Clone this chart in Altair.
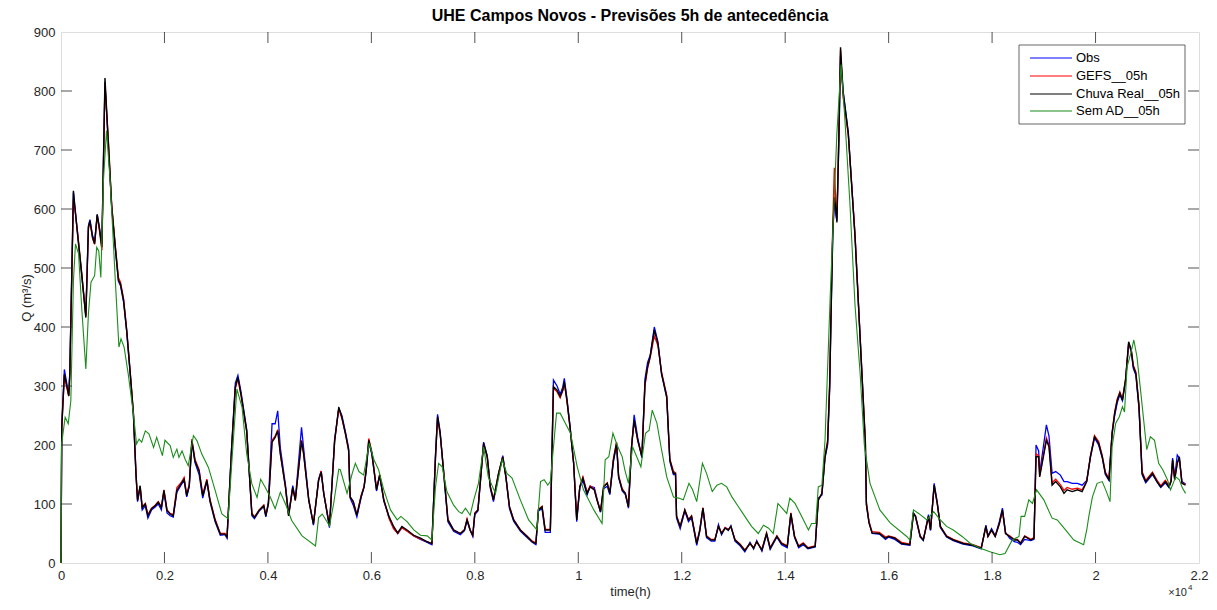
import altair as alt
import pandas as pd

# ---------------- data ----------------
# time in hours
t_fc = [
    0, 15, 65, 130, 150, 170, 240, 270, 340, 400,
    480, 530, 560, 610, 650, 700, 740, 790, 850, 920,
    980, 1050, 1110, 1150, 1210, 1270, 1340, 1400, 1450, 1480,
    1530, 1570, 1630, 1680, 1750, 1820, 1880, 1940, 1990, 2050,
    2110, 2170, 2240, 2320, 2380, 2430, 2480, 2530, 2590, 2670,
    2740, 2820, 2880, 2980, 3080, 3170, 3210, 3300, 3370, 3420,
    3480, 3590, 3690, 3740, 3830, 3920, 3960, 4010, 4080, 4140,
    4190, 4240, 4340, 4400, 4480, 4530, 4650, 4690, 4790, 4880,
    4980, 5030, 5080, 5190, 5290, 5370, 5430, 5500, 5560, 5590,
    5650, 5720, 5800, 5860, 5900, 5950, 6010, 6100, 6160, 6240,
    6340, 6430, 6510, 6590, 6690, 6820, 6950, 7080, 7170, 7240,
    7280, 7330, 7400, 7480, 7590, 7720, 7800, 7850, 7910, 7960,
    8000, 8060, 8110, 8170, 8240, 8300, 8360, 8460, 8540, 8600,
    8670, 8750, 8880, 9010, 9110, 9180, 9230, 9300, 9360, 9460,
    9520, 9590, 9650, 9700, 9730, 9780, 9840, 9910, 9970, 10030,
    10090, 10170, 10230, 10310, 10360, 10430, 10490, 10560, 10610, 10680,
    10740, 10780, 10850, 10910, 10970, 11030, 11080, 11150, 11230, 11290,
    11340, 11390, 11470, 11540, 11610, 11710, 11770, 11840, 11880, 11900,
    11970, 12060, 12130, 12190, 12290, 12350, 12410, 12480, 12570, 12640,
    12710, 12770, 12840, 12900, 12950, 13030, 13130, 13220, 13320, 13390,
    13450, 13550, 13640, 13710, 13840, 13930, 14040, 14110, 14180, 14260,
    14350, 14440, 14580, 14640, 14710, 14770, 14820, 14860, 14890, 14920,
    14950, 14980, 15000, 15040, 15070, 15120, 15220, 15350, 15450, 15550,
    15570, 15620, 15680, 15820, 15940, 16000, 16120, 16250, 16410, 16480,
    16520, 16610, 16670, 16770, 16810, 16880, 16940, 17000, 17120, 17250,
    17440, 17630, 17790, 17880, 17920, 17990, 18060, 18140, 18200, 18260,
    18340, 18430, 18490, 18550, 18630, 18750, 18810, 18850, 18900, 18920,
    19050, 19100, 19160, 19230, 19320, 19390, 19450, 19550, 19650, 19740,
    19830, 19900, 19980, 20060, 20130, 20190, 20260, 20320, 20370, 20420,
    20470, 20520, 20580, 20640, 20690, 20730, 20780, 20840, 20900, 20970,
    21100, 21190, 21260, 21350, 21420, 21460, 21490, 21530, 21580, 21620,
    21670, 21740,
]

q_obs = [
    0, 235, 328, 295, 285, 322, 628, 600, 540, 488,
    420, 572, 582, 555, 545, 590, 570, 540, 815, 700,
    605, 533, 478, 470, 442, 392, 318, 250, 148, 104,
    128, 90, 97, 76, 90, 95, 100, 90, 120, 85,
    80, 78, 120, 132, 140, 112, 130, 205, 170, 150,
    110, 138, 104, 70, 47, 48, 42, 200, 305, 318,
    290, 226, 80, 75, 88, 96, 78, 105, 236, 236,
    258, 195, 132, 82, 131, 108, 230, 195, 108, 64,
    142, 156, 118, 60, 210, 262, 250, 222, 195, 110,
    98, 78, 110, 130, 155, 205, 184, 122, 148, 105,
    78, 60, 50, 60, 55, 46, 40, 35, 31, 185,
    252, 222, 150, 70, 54, 48, 55, 72, 55, 45,
    82, 88, 140, 205, 182, 127, 104, 150, 182, 148,
    92, 71, 54, 43, 35, 31, 88, 92, 52, 52,
    310, 300, 286, 298, 313, 280, 233, 170, 70, 128,
    140, 115, 130, 128, 110, 86, 126, 130, 116, 172,
    200, 145, 122, 116, 93, 195, 251, 212, 178, 312,
    340, 352, 400, 375, 320, 280, 172, 150, 150, 76,
    58, 88, 70, 77, 30, 54, 92, 43, 37, 37,
    65, 48, 60, 55, 63, 37, 29, 19, 35, 24,
    38, 20, 48, 23, 44, 31, 26, 82, 44, 26,
    31, 24, 27, 110, 115, 178, 200, 295, 430, 555,
    615, 590, 580, 720, 860, 800, 730, 555, 380, 200,
    98, 70, 50, 49, 40, 44, 40, 32, 30, 85,
    78, 44, 38, 82, 55, 135, 103, 60, 44, 38,
    32, 29, 24, 64, 46, 58, 46, 70, 93, 52,
    42, 36, 35, 31, 40, 38, 40, 200, 190, 152,
    234, 215, 152, 155, 149, 138, 138, 135, 135, 132,
    140, 178, 212, 200, 178, 150, 140, 218, 250, 272,
    285, 275, 308, 372, 358, 330, 318, 262, 150, 136,
    150, 137, 128, 136, 128, 140, 178, 145, 183, 178,
    138, 134,
]

q_gefs = [
    0, 228, 318, 290, 283, 318, 615, 600, 545, 492,
    418, 566, 578, 550, 540, 588, 565, 530, 812, 710,
    608, 538, 484, 476, 448, 396, 322, 255, 152, 108,
    130, 95, 101, 82, 93, 98, 104, 95, 124, 90,
    84, 82, 128, 136, 145, 116, 134, 210, 176, 158,
    116, 142, 108, 74, 50, 50, 45, 194, 295, 312,
    284, 222, 85, 78, 90, 98, 81, 100, 208, 215,
    226, 186, 128, 80, 127, 106, 208, 186, 106, 67,
    140, 156, 118, 64, 206, 262, 245, 218, 190, 112,
    104, 82, 114, 130, 160, 211, 188, 126, 150, 108,
    76, 58, 50, 60, 54, 46, 41, 36, 33, 178,
    246, 218, 154, 74, 56, 50, 57, 75, 56, 47,
    85, 90, 142, 202, 180, 130, 108, 153, 180, 146,
    96, 74, 56, 46, 37, 34, 91, 96, 57, 57,
    296, 290, 280, 292, 305, 275, 230, 170, 75, 130,
    146, 120, 131, 125, 108, 88, 130, 136, 120, 178,
    205, 148, 126, 118, 96, 198, 240, 207, 182, 300,
    330, 348, 385, 368, 324, 284, 176, 156, 152, 80,
    62, 90, 74, 80, 34, 57, 94, 46, 40, 40,
    62, 51, 60, 57, 62, 40, 32, 22, 33, 26,
    36, 23, 51, 26, 46, 34, 29, 85, 46, 29,
    34, 26, 29, 106, 118, 182, 208, 305, 445, 575,
    670, 610, 585, 740, 870, 790, 725, 558, 382, 208,
    104, 70, 53, 52, 44, 46, 43, 35, 32, 84,
    80, 46, 40, 78, 57, 130, 100, 62, 46, 40,
    34, 31, 26, 61, 45, 55, 45, 66, 88, 50,
    46, 40, 40, 34, 46, 40, 43, 185, 182, 148,
    212, 200, 136, 142, 133, 123, 128, 125, 127, 124,
    139, 181, 216, 206, 182, 154, 143, 222, 256, 278,
    290, 278, 312, 372, 362, 335, 324, 268, 155, 140,
    154, 140, 131, 140, 131, 139, 172, 142, 170, 176,
    136, 133,
]

q_chuva = [
    0, 230, 320, 292, 283, 320, 631, 603, 541, 490,
    416, 569, 580, 552, 541, 591, 569, 535, 822, 705,
    603, 535, 479, 473, 445, 394, 320, 253, 151, 106,
    131, 94, 100, 80, 92, 97, 103, 94, 123, 89,
    83, 80, 123, 134, 142, 114, 131, 207, 173, 156,
    114, 140, 106, 72, 49, 49, 44, 196, 298, 315,
    286, 224, 83, 77, 89, 97, 80, 100, 205, 213,
    224, 185, 128, 80, 128, 106, 207, 185, 106, 66,
    140, 154, 117, 63, 207, 264, 247, 219, 192, 112,
    104, 81, 112, 129, 158, 208, 186, 124, 149, 107,
    79, 62, 51, 62, 56, 47, 42, 36, 33, 180,
    248, 220, 152, 73, 56, 50, 56, 73, 56, 47,
    84, 90, 141, 203, 180, 129, 107, 152, 180, 146,
    95, 73, 56, 45, 36, 33, 90, 95, 56, 56,
    299, 293, 282, 293, 307, 276, 231, 169, 73, 129,
    144, 118, 129, 124, 107, 87, 129, 135, 118, 175,
    203, 146, 124, 118, 95, 197, 242, 208, 180, 305,
    333, 350, 395, 372, 321, 282, 175, 152, 152, 79,
    62, 90, 73, 79, 33, 56, 93, 45, 39, 39,
    62, 50, 59, 56, 62, 39, 31, 21, 33, 25,
    36, 22, 50, 25, 45, 33, 28, 84, 45, 28,
    33, 25, 28, 107, 118, 180, 204, 300, 437, 560,
    620, 600, 577, 730, 874, 798, 728, 553, 379, 204,
    100, 68, 51, 50, 42, 45, 42, 33, 31, 84,
    79, 45, 39, 79, 56, 132, 101, 62, 45, 39,
    33, 30, 25, 62, 45, 56, 45, 67, 90, 50,
    45, 39, 39, 33, 45, 39, 42, 180, 180, 146,
    208, 197, 132, 138, 129, 118, 124, 121, 124, 121,
    138, 180, 214, 203, 180, 152, 141, 220, 254, 276,
    288, 276, 310, 375, 361, 333, 321, 265, 152, 138,
    152, 138, 129, 138, 129, 138, 175, 141, 169, 180,
    135, 132,
]

t_sem = [
    0, 10, 80, 140, 190, 240, 280, 340, 400, 480,
    530, 580, 650, 690, 730, 770, 820, 880, 950, 1050,
    1120, 1160, 1220, 1300, 1400, 1460, 1510, 1560, 1630, 1700,
    1790, 1850, 1960, 2010, 2110, 2170, 2240, 2280, 2340, 2400,
    2460, 2560, 2630, 2720, 2850, 2980, 3110, 3230, 3300, 3400,
    3500, 3590, 3690, 3790, 3860, 3950, 4050, 4140, 4240, 4340,
    4460, 4660, 4920, 4980, 5050, 5190, 5270, 5370, 5400, 5530,
    5630, 5690, 5760, 5850, 5960, 6050, 6140, 6240, 6370, 6500,
    6570, 6690, 6820, 6950, 7080, 7170, 7240, 7300, 7370, 7460,
    7590, 7690, 7750, 7820, 7910, 7980, 8070, 8170, 8260, 8400,
    8530, 8620, 8720, 8880, 9040, 9200, 9270, 9340, 9410, 9460,
    9580, 9650, 9720, 9850, 9980, 10100, 10300, 10460, 10520, 10590,
    10670, 10750, 10850, 10900, 10970, 11050, 11130, 11210, 11300, 11370,
    11430, 11520, 11610, 11710, 11840, 11940, 12030, 12140, 12210, 12290,
    12400, 12480, 12590, 12680, 12770, 12870, 12970, 13100, 13220, 13350,
    13480, 13580, 13680, 13770, 13860, 13970, 14030, 14090, 14190, 14320,
    14450, 14510, 14590, 14640, 14710, 14770, 14870, 14950, 15000, 15080,
    15150, 15250, 15350, 15450, 15530, 15640, 15830, 16030, 16350, 16410,
    16480, 16580, 16740, 16870, 17000, 17120, 17250, 17420, 17580, 17770,
    17960, 18150, 18250, 18390, 18520, 18560, 18630, 18710, 18780, 18860,
    19000, 19160, 19260, 19420, 19580, 19770, 19830, 19870, 19940, 20030,
    20130, 20210, 20280, 20320, 20390, 20460, 20520, 20560, 20610, 20680,
    20740, 20800, 20870, 20990, 21060, 21140, 21220, 21300, 21390, 21450,
    21550, 21620, 21680, 21740,
]

q_sem = [
    0, 200, 247, 236, 275, 478, 541, 524, 433, 329,
    422, 476, 487, 535, 529, 484, 648, 733, 648, 479,
    366, 380, 366, 320, 253, 202, 210, 205, 224, 219,
    196, 213, 182, 208, 199, 179, 193, 179, 190, 176,
    165, 216, 207, 185, 162, 123, 83, 75, 168, 295,
    264, 185, 134, 111, 142, 128, 111, 92, 120, 100,
    72, 46, 29, 77, 83, 63, 100, 159, 158, 118,
    152, 169, 155, 149, 203, 175, 158, 124, 90, 73,
    79, 70, 56, 47, 46, 39, 129, 169, 163, 121,
    98, 87, 84, 93, 81, 107, 135, 197, 146, 118,
    175, 152, 144, 107, 73, 56, 138, 141, 132, 138,
    254, 254, 242, 220, 163, 124, 90, 67, 175, 180,
    220, 200, 180, 158, 135, 197, 180, 163, 220, 225,
    259, 237, 192, 146, 112, 110, 107, 135, 124, 104,
    169, 152, 121, 132, 135, 129, 112, 95, 79, 62,
    50, 64, 59, 50, 101, 90, 84, 110, 101, 79,
    56, 67, 67, 129, 132, 208, 451, 624, 729, 845,
    758, 612, 437, 320, 200, 135, 90, 68, 45, 39,
    90, 84, 73, 87, 73, 62, 56, 45, 33, 25,
    19, 14, 16, 39, 45, 79, 79, 107, 101, 124,
    107, 76, 73, 56, 39, 31, 56, 79, 112, 135,
    138, 121, 104, 197, 237, 248, 265, 256, 333, 355,
    378, 350, 293, 192, 214, 208, 169, 158, 141, 124,
    146, 141, 127, 118,
]

series_names = ["Obs", "GEFS__05h", "Chuva Real__05h", "Sem AD__05h"]
series_colors = ["#0000ff", "#ff0000", "#000000", "#1a8c1a"]

x_ticks = [0, 2000, 4000, 6000, 8000, 10000, 12000, 14000, 16000, 18000, 20000, 22000]
y_ticks = [0, 100, 200, 300, 400, 500, 600, 700, 800, 900]

assert len(t_fc) == len(q_obs) == len(q_gefs) == len(q_chuva)
assert len(t_sem) == len(q_sem)

# ---------------- chart ----------------
W, H = 1138, 531
FONT = "Liberation Sans"
AX = "#262626"

x_scale = alt.Scale(domain=[0, 22000], nice=False, zero=False)
y_scale = alt.Scale(domain=[0, 900], nice=False)
color_scale = alt.Scale(domain=series_names, range=series_colors)

x_axis = alt.Axis(values=x_ticks, labelExpr="format(datum.value/10000, '.1~f')",
                  title="time(h)", ticks=False, domain=False, grid=False,
                  labelFont=FONT, labelFontSize=13, labelColor=AX, labelPadding=6,
                  titleFont=FONT, titleFontSize=13, titleFontWeight="normal",
                  titleColor=AX, titlePadding=3, labelFlush=False)
y_axis = alt.Axis(values=y_ticks, title="Q (m³/s)", ticks=False, domain=False, grid=False,
                  labelFont=FONT, labelFontSize=13, labelColor=AX, labelPadding=6,
                  titleFont=FONT, titleFontSize=13, titleFontWeight="normal",
                  titleColor=AX, titlePadding=0, labelFlush=False)


def series_df(t, q, name):
    return pd.DataFrame({"t": t, "q": q, "series": name})


def line_layer(df, width):
    return alt.Chart(df).mark_line(strokeWidth=width, interpolate="linear").encode(
        x=alt.X("t:Q", scale=x_scale, axis=x_axis),
        y=alt.Y("q:Q", scale=y_scale, axis=y_axis),
        color=alt.Color("series:N", scale=color_scale, legend=None),
    )


l_obs = line_layer(series_df(t_fc, q_obs, series_names[0]), 1.3)
l_gefs = line_layer(series_df(t_fc, q_gefs, series_names[1]), 1.3)
l_chuva = line_layer(series_df(t_fc, q_chuva, series_names[2]), 1.4)
l_sem = line_layer(series_df(t_sem, q_sem, series_names[3]), 1.1)

# inward ticks on all four sides (MATLAB box style)
ydf = pd.DataFrame({"q": y_ticks[1:-1]})
xdf = pd.DataFrame({"t": x_ticks[1:-1]})
tick_style = dict(color=AX, strokeWidth=0.8)
ticks_left = alt.Chart(ydf).mark_rule(**tick_style).encode(
    y=alt.Y("q:Q", scale=y_scale, axis=y_axis), x=alt.value(0), x2=alt.value(11))
ticks_right = alt.Chart(ydf).mark_rule(**tick_style).encode(
    y=alt.Y("q:Q", scale=y_scale, axis=y_axis), x=alt.value(W - 11), x2=alt.value(W))
ticks_top = alt.Chart(xdf).mark_rule(**tick_style).encode(
    x=alt.X("t:Q", scale=x_scale, axis=x_axis), y=alt.value(0), y2=alt.value(11))
ticks_bottom = alt.Chart(xdf).mark_rule(**tick_style).encode(
    x=alt.X("t:Q", scale=x_scale, axis=x_axis), y=alt.value(H - 11), y2=alt.value(H))

# x10^4 exponent label
exp_df = pd.DataFrame({"base": ["×10"], "sup": ["4"]})
exp_base = alt.Chart(exp_df).mark_text(align="right", baseline="alphabetic", font=FONT,
                                       fontSize=11, color=AX).encode(
    text="base:N", x=alt.value(W - 12), y=alt.value(H + 33))
exp_sup = alt.Chart(exp_df).mark_text(align="left", baseline="alphabetic", font=FONT,
                                      fontSize=8, color=AX).encode(
    text="sup:N", x=alt.value(W - 11), y=alt.value(H + 27))

# legend box (MATLAB style, top right inside the axes)
LX0, LX1, LY0, LY1 = 958, 1124, 13, 92
row_y = [26, 44, 62, 79]
box = alt.Chart(pd.DataFrame({"k": [0]})).mark_rect(
    fill="white", stroke="#404040", strokeWidth=0.8).encode(
    x=alt.value(LX0), x2=alt.value(LX1), y=alt.value(LY0), y2=alt.value(LY1))
legend_layers = [box]
for name, col, ry in zip(series_names, series_colors, row_y):
    ldf = pd.DataFrame({"label": [name]})
    legend_layers.append(
        alt.Chart(ldf).mark_rule(color=col, strokeWidth=1.2).encode(
            x=alt.value(LX0 + 11), x2=alt.value(LX0 + 53), y=alt.value(ry)))
    legend_layers.append(
        alt.Chart(ldf).mark_text(align="left", baseline="middle", font=FONT,
                                 fontSize=13, color="#000000").encode(
            text="label:N", x=alt.value(LX0 + 57), y=alt.value(ry)))

chart = alt.layer(
    l_obs, l_gefs, l_chuva, l_sem,
    ticks_left, ticks_right, ticks_top, ticks_bottom,
    exp_base, exp_sup, *legend_layers,
).properties(
    width=W, height=H,
    title=alt.Title("UHE Campos Novos - Previsões 5h de antecedência", font=FONT,
                    fontSize=16, fontWeight="bold", color="#000000", anchor="middle",
                    offset=2),
    autosize=alt.AutoSizeParams(type="none"),
    padding={"left": 53, "top": 24, "right": 10, "bottom": 36},
).configure_view(
    stroke=AX, strokeWidth=1,
).configure(background="white")

chart.save("out.html", embed_options={"renderer": "svg", "actions": False})
